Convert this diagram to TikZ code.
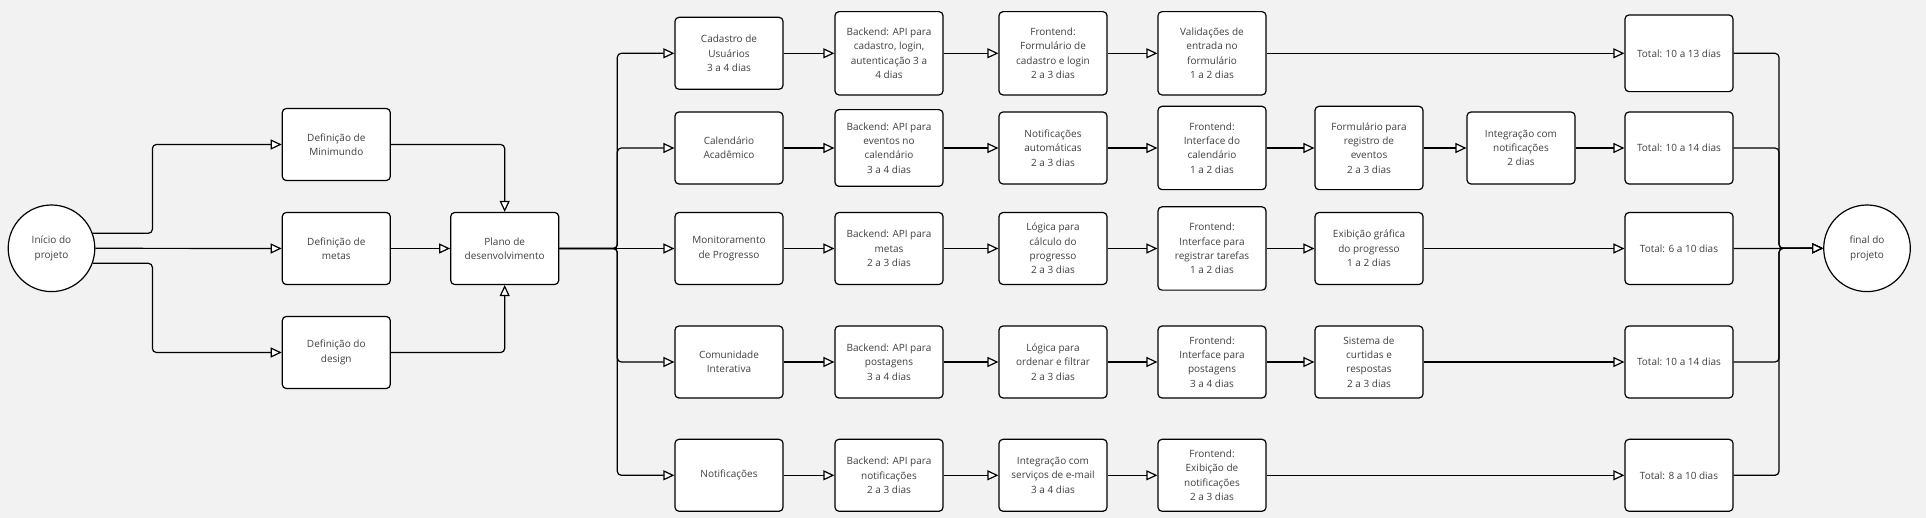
\documentclass[tikz,border=0pt]{standalone}
\usepackage{fontspec}
\setmainfont{Open Sans}
\usetikzlibrary{arrows.meta,calc}
\definecolor{bg}{HTML}{F2F2F2}
\definecolor{txt}{HTML}{404040}
\begin{document}
\begin{tikzpicture}[x=1pt,y=-1pt,
  box/.style={draw=black, line width=1.2pt, fill=white, rounded corners=4pt, minimum width=108pt, minimum height=72pt, align=center, text=txt, font=\fontsize{10}{14.3}\selectfont, inner sep=2pt},
  tall/.style={minimum height=83.3pt},
  mid/.style={minimum height=76.7pt},
  circ/.style={draw=black, line width=1.2pt, fill=white, circle, minimum size=86.6pt, align=center, text=txt, font=\fontsize{10}{14.3}\selectfont, inner sep=0pt},
  arr/.style={draw=black, line width=1.2pt, rounded corners=4pt, -{Triangle[length=11pt,width=10pt,fill=white]}},
  conn/.style={draw=black, line width=1.2pt, rounded corners=4pt}]
\fill[bg] (0,0) rectangle (1926,518);
\useasboundingbox (0,0) rectangle (1926,518);

% left part
\node[circ] (inicio) at (51.5,248.3) {Início do\\projeto};
\node[box] (defmin) at (336.3,144.5) {Definição de\\Minimundo};
\node[box] (defmet) at (336.3,248.5) {Definição de\\metas};
\node[box] (defdes) at (336.3,352.5) {Definição do\\design};
\node[box] (plano) at (504.7,248.5) {Plano de\\desenvolvimento};

% row 1
\node[box] (cad) at (729,53.3) {Cadastro de\\Usuários\\3 a 4 dias};
\node[box,tall] (bcad) at (889,53.3) {Backend: API para\\cadastro, login,\\autenticação 3 a\\4 dias};
\node[box,tall] (fcad) at (1053,53.3) {Frontend:\\Formulário de\\cadastro e login\\2 a 3 dias};
\node[box,tall] (val) at (1212,53.3) {Validações de\\entrada no\\formulário\\1 a 2 dias};
\node[box,mid] (tot1) at (1679,53.3) {Total: 10 a 13 dias};

% row 2
\node[box] (cal) at (729,148) {Calendário\\Acadêmico};
\node[box,mid] (bcal) at (889,148) {Backend: API para\\eventos no\\calendário\\3 a 4 dias};
\node[box] (ncal) at (1053,148) {Notificações\\automáticas\\2 a 3 dias};
\node[box,tall] (fcal) at (1212,148) {Frontend:\\Interface do\\calendário\\1 a 2 dias};
\node[box,tall] (formreg) at (1369,148) {Formulário para\\registro de\\eventos\\2 a 3 dias};
\node[box] (intnot) at (1521,148) {Integração com\\notificações\\2 dias};
\node[box] (tot2) at (1679,148) {Total: 10 a 14 dias};

% row 3
\node[box] (mon) at (729,248.5) {Monitoramento\\de Progresso};
\node[box] (bmet) at (889,248.5) {Backend: API para\\metas\\2 a 3 dias};
\node[box] (logc) at (1053,248.5) {Lógica para\\cálculo do\\progresso\\2 a 3 dias};
\node[box,tall] (freg) at (1212,248.5) {Frontend:\\Interface para\\registrar tarefas\\1 a 2 dias};
\node[box] (exg) at (1369,248.5) {Exibição gráfica\\do progresso\\1 a 2 dias};
\node[box] (tot3) at (1679,248.5) {Total: 6 a 10 dias};

% row 4
\node[box] (com) at (729,362) {Comunidade\\Interativa};
\node[box] (bpos) at (889,362) {Backend: API para\\postagens\\3 a 4 dias};
\node[box] (logo) at (1053,362) {Lógica para\\ordenar e filtrar\\2 a 3 dias};
\node[box] (fpos) at (1212,362) {Frontend:\\Interface para\\postagens\\3 a 4 dias};
\node[box] (sis) at (1369,362) {Sistema de\\curtidas e\\respostas\\2 a 3 dias};
\node[box] (tot4) at (1679,362) {Total: 10 a 14 dias};

% row 5
\node[box] (notif) at (729,475.3) {Notificações};
\node[box] (bnot) at (889,475.3) {Backend: API para\\notificações\\2 a 3 dias};
\node[box] (intem) at (1053,475.3) {Integração com\\serviços de e-mail\\3 a 4 dias};
\node[box] (fexi) at (1212,475.3) {Frontend:\\Exibição de\\notificações\\2 a 3 dias};
\node[box] (tot5) at (1679,475.3) {Total: 8 a 10 dias};

\node[circ] (final) at (1867,248.3) {final do\\projeto};

% bus coordinates
\coordinate (lbus) at (152.4,248.3);
\coordinate (bus) at (617.3,248.5);
\coordinate (rbus) at (1779,248.3);

% left connectors
\draw[arr] (inicio.20) -| (lbus |- defmin.west) -- (defmin.west);
\draw[arr] (inicio.east) -- (defmet.west);
\draw[arr] (inicio.-20) -| (lbus |- defdes.west) -- (defdes.west);
\draw[arr] (defmin.east) -| (plano.north);
\draw[arr] (defmet.east) -- (plano.west);
\draw[arr] (defdes.east) -| (plano.south);

% distribution bus
\draw[arr] (plano.east) -- (bus) |- (cad.west);
\draw[arr] (plano.east) -- (bus) |- (cal.west);
\draw[arr] (plano.east) -- (mon.west);
\draw[arr] (plano.east) -- (bus) |- (com.west);
\draw[arr] (plano.east) -- (bus) |- (notif.west);

% row 1
\draw[arr] (cad.east) -- (bcad.west);
\draw[arr] (bcad.east) -- (fcad.west);
\draw[arr] (fcad.east) -- (val.west);
\draw[arr] (val.east) -- (tot1.west);
% row 2
\draw[arr] (cal.east) -- (bcal.west);
\draw[arr] (bcal.east) -- (ncal.west);
\draw[arr] (ncal.east) -- (fcal.west);
\draw[arr] (fcal.east) -- (formreg.west);
\draw[arr] (formreg.east) -- (intnot.west);
\draw[arr] (intnot.east) -- (tot2.west);
% row 3
\draw[arr] (mon.east) -- (bmet.west);
\draw[arr] (bmet.east) -- (logc.west);
\draw[arr] (logc.east) -- (freg.west);
\draw[arr] (freg.east) -- (exg.west);
\draw[arr] (exg.east) -- (tot3.west);
% row 4
\draw[arr] (com.east) -- (bpos.west);
\draw[arr] (bpos.east) -- (logo.west);
\draw[arr] (logo.east) -- (fpos.west);
\draw[arr] (fpos.east) -- (sis.west);
\draw[arr] (sis.east) -- (tot4.west);
% row 5
\draw[arr] (notif.east) -- (bnot.west);
\draw[arr] (bnot.east) -- (intem.west);
\draw[arr] (intem.east) -- (fexi.west);
\draw[arr] (fexi.east) -- (tot5.west);

% collecting bus
\draw[arr] (tot1.east) -| (rbus) -- (final.west);
\draw[arr] (tot2.east) -| (rbus) -- (final.west);
\draw[arr] (tot3.east) -- (final.west);
\draw[arr] (tot4.east) -| (rbus) -- (final.west);
\draw[arr] (tot5.east) -| (rbus) -- (final.west);
\end{tikzpicture}
\end{document}
